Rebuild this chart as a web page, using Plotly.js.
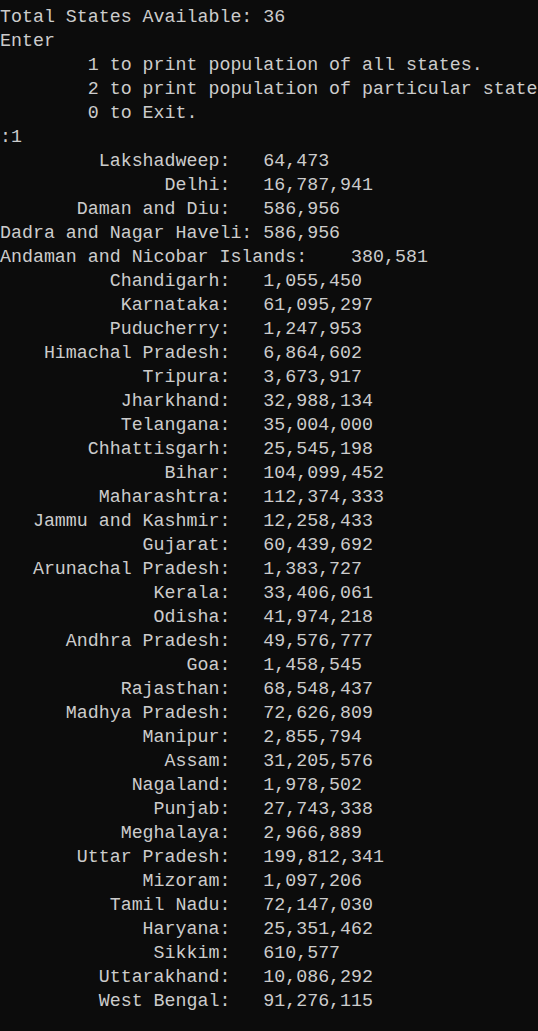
<!DOCTYPE html>
<html>
<head>
<meta charset="utf-8">
<script src="https://cdn.plot.ly/plotly-3.0.1.min.js"></script>
<style>html,body{margin:0;padding:0;background:#0c0c0c;}#plot{width:538px;height:1031px;}</style>
</head>
<body>
<div id="plot"></div>
<script>
// ── Data ──────────────────────────────────────────────────────
var headerLines = [
    'Total States Available: 36',
    'Enter',
    '\t1 to print population of all states.',
    '\t2 to print population of particular state',
    '\t0 to Exit.',
    ':1'
];
var states = ['Lakshadweep', 'Delhi', 'Daman and Diu', 'Dadra and Nagar Haveli',
    'Andaman and Nicobar Islands', 'Chandigarh', 'Karnataka', 'Puducherry',
    'Himachal Pradesh', 'Tripura', 'Jharkhand', 'Telangana', 'Chhattisgarh', 'Bihar',
    'Maharashtra', 'Jammu and Kashmir', 'Gujarat', 'Arunachal Pradesh', 'Kerala',
    'Odisha', 'Andhra Pradesh', 'Goa', 'Rajasthan', 'Madhya Pradesh', 'Manipur',
    'Assam', 'Nagaland', 'Punjab', 'Meghalaya', 'Uttar Pradesh', 'Mizoram',
    'Tamil Nadu', 'Haryana', 'Sikkim', 'Uttarakhand', 'West Bengal'];
var population = [64473, 16787941, 586956, 586956, 380581, 1055450, 61095297, 1247953,
    6864602, 3673917, 32988134, 35004000, 25545198, 104099452, 112374333, 12258433,
    60439692, 1383727, 33406061, 41974218, 49576777, 1458545, 68548437, 72626809,
    2855794, 31205576, 1978502, 27743338, 2966889, 199812341, 1097206, 72147030,
    25351462, 610577, 10086292, 91276115];

// ── Console-style formatting (%20s: then tab) ─────────────────
function expandTabs(s) {
    var out = '';
    for (var i = 0; i < s.length; i++) {
        if (s[i] === '\t') { do { out += ' '; } while (out.length % 8); }
        else out += s[i];
    }
    return out;
}
function fmt(n) { return n.toString().replace(/\B(?=(\d{3})+(?!\d))/g, ','); }
function pad(s, w) { while (s.length < w) s = ' ' + s; return s; }

var lines = headerLines.map(expandTabs);
states.forEach(function (st, i) {
    lines.push(expandTabs(pad(st, 20) + ':\t' + fmt(population[i])));
});

var rows = lines.map(function (_, i) { return i; });
var text = lines.map(function (l) { return l.replace(/ /g, '\u00a0'); });

Plotly.newPlot('plot', [{
    x: rows.map(function () { return 0; }), y: rows, text: text,
    mode: 'text', textposition: 'middle right', cliponaxis: false,
    textfont: { family: 'Liberation Mono, DejaVu Sans Mono, monospace', size: 18.3, color: '#cccccc' },
    hoverinfo: 'skip', showlegend: false
}], {
    width: 538, height: 1031,
    margin: { l: 0, r: 0, t: 0, b: 0 },
    paper_bgcolor: '#0c0c0c', plot_bgcolor: '#0c0c0c',
    xaxis: { range: [0, 538], visible: false, fixedrange: true },
    yaxis: { range: [42.25, -0.71], visible: false, fixedrange: true }
}, { displayModeBar: false, staticPlot: true });
</script>
</body>
</html>
